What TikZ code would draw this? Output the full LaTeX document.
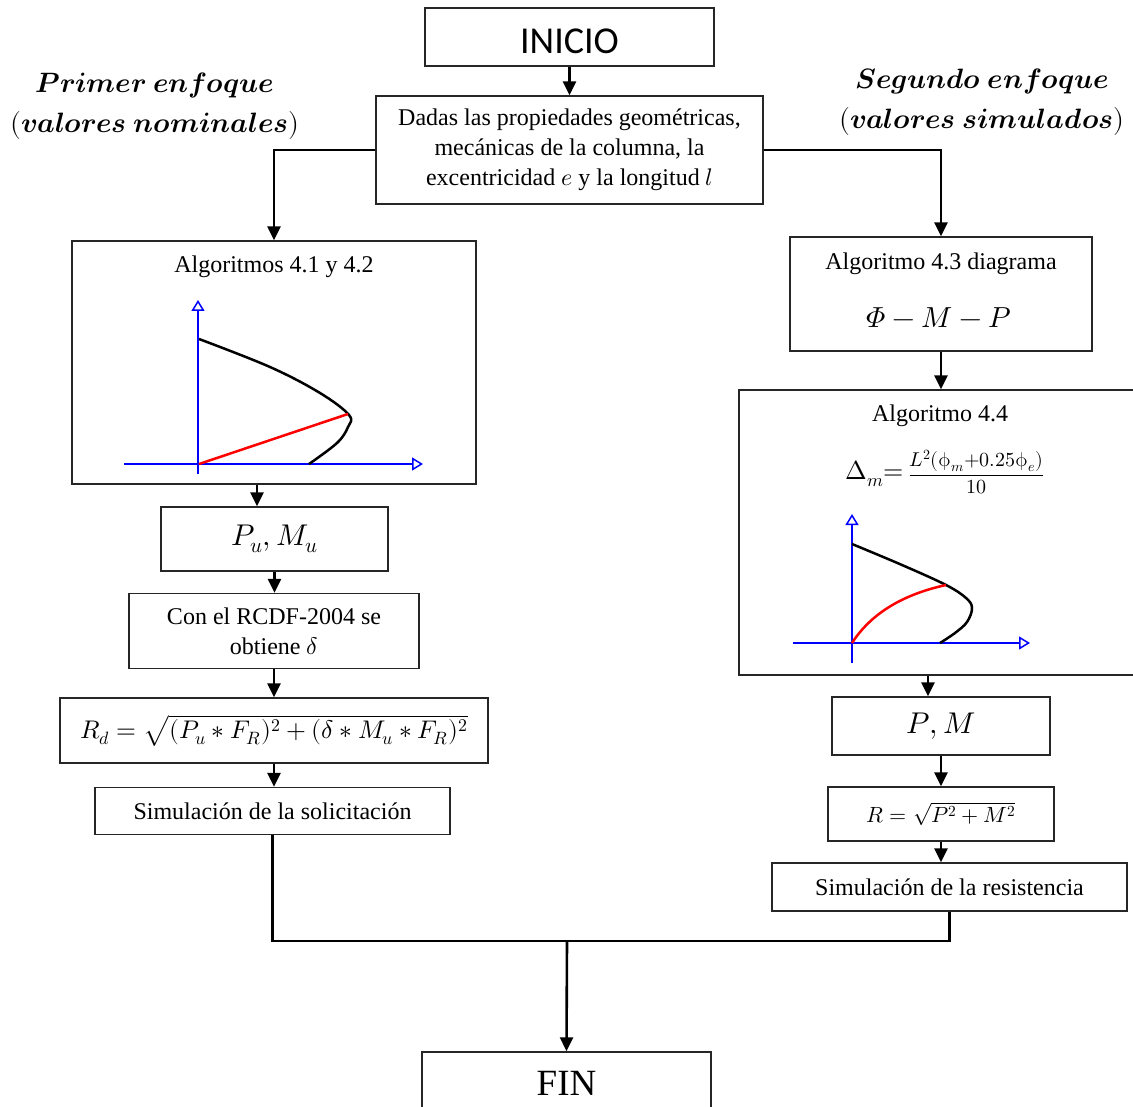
\documentclass[tikz,border=0pt]{standalone}
\usepackage{fontspec}
\usepackage[math-style=ISO]{unicode-math}
\setmainfont{Liberation Serif}
\setmathfont{Latin Modern Math}
\newfontfamily\calib{Carlito}
\usetikzlibrary{arrows.meta}
\begin{document}
\begin{tikzpicture}[x=1pt,y=-1pt,
  box/.style={draw=black!85, line width=1.4pt, inner sep=0pt, align=center},
  txt/.style={font=\fontsize{24}{30}\selectfont, align=center, inner sep=0pt},
  conn/.style={line width=2.6pt, -{Triangle[width=13pt,length=14pt]}},
  link/.style={line width=2.6pt},
  axis/.style={blue, line width=1.5pt, -{Triangle[open,width=13pt,length=11pt]}},
  curveb/.style={line width=2.5pt, black},
  curver/.style={line width=2.5pt, red},
  head/.style={font=\fontsize{28}{40}\selectfont, align=center, inner sep=0pt}
]
\useasboundingbox (0,0) rectangle (1133,1107);
\clip (0,0) rectangle (1133,1107);
\fill[white] (0,0) rectangle (1133,1107);

% headings
\node[head] (h1) at (155,106) {$\symbfit{Primer\ enfoque}$\\$(\symbfit{valores\ nominales})$};
\node[head] (h2) at (982,102) {$\symbfit{Segundo\ enfoque}$\\$(\symbfit{valores\ simulados})$};

% top
\node[box, minimum width=289, minimum height=58] (inicio) at (569.5,37) {};
\node[font=\calib\fontsize{38}{40}\selectfont, inner sep=0pt] (tinicio) at (569.5,41) {INICIO};
\node[box, txt, minimum width=387, minimum height=108] (dadas) at (569.5,150) {Dadas las propiedades geométricas,\\ mecánicas de la columna, la\\ excentricidad $e$ y la longitud $l$};

% left column
\node[box, minimum width=404, minimum height=243] (alg12) at (274,362.5) {};
\node[txt] (t12) at (274,267) {Algoritmos 4.1 y 4.2};
\draw[axis] (198,474) -- (198,300);
\draw[axis] (124,464) -- (423,464);
\draw[curveb] plot[smooth, tension=0.6] coordinates {(199,339) (270,367) (320,393) (349,415) (348,427) (337,443) (309,464)};
\draw[curver] (199,464) -- (348,414);

\node[box, minimum width=227, minimum height=64, font=\fontsize{30}{34}\selectfont] (pumu) at (274.5,539) {$P_u, M_u$};
\node[box, txt, minimum width=290, minimum height=75] (rcdf) at (274,631) {Con el RCDF-2004 se\\ obtiene $\delta$};
\node[box, minimum width=428, minimum height=65, font=\fontsize{25.5}{28}\selectfont] (rd) at (274,730.5) {$R_d = \sqrt{(P_u * F_R)^2 + (\delta * M_u * F_R)^2}$};
\node[box, txt, minimum width=355, minimum height=47] (simsol) at (272.5,811) {Simulación de la solicitación};

% right column
\node[box, minimum width=302, minimum height=114] (alg43) at (941,294) {};
\node[txt] (t43) at (941,264) {Algoritmo 4.3 diagrama};
\node[font=\fontsize{29}{32}\selectfont, inner sep=0pt] (phi) at (939,318) {$\Phi - M - P$};

\node[box, minimum width=401, minimum height=285] (alg44) at (939.5,532.5) {};
\node[txt] (t44) at (940,416) {Algoritmo 4.4};
\node[inner sep=0pt] (delta) at (945,472) {{\fontsize{26}{28}\selectfont$\upDelta_m{=}\,$}{\fontsize{20}{24}\selectfont$\dfrac{L^2(\upphi_m{+}0.25\upphi_e)}{10}$}};
\draw[axis] (852,663) -- (852,514);
\draw[axis] (793,643) -- (1030,643);
\draw[curveb] plot[smooth, tension=0.6] coordinates {(852,544) (902,565) (946,585) (966,598) (972,608) (967,622) (955,633) (940,643)};
\draw[curver] (852,643) .. controls (872,612) and (905,594) .. (946,585);

\node[box, minimum width=218, minimum height=58, font=\fontsize{30}{34}\selectfont] (pm) at (941,726) {$P, M$};
\node[box, minimum width=226, minimum height=54, font=\fontsize{22}{26}\selectfont] (rr) at (941,814) {$R = \sqrt{P^2 + M^2}$};
\node[box, txt, minimum width=355, minimum height=48] (simres) at (949.5,887) {Simulación de la resistencia};

% end
\node[box, minimum width=289, minimum height=62, font=\fontsize{37}{40}\selectfont] (fin) at (566.5,1083) {FIN};

% connectors
\draw[conn] (tinicio |- inicio.south) -- (dadas.north);
\draw[conn] (dadas.west) -| (alg12.north);
\draw[conn] (dadas.east) -| (alg43.north);
\draw[conn] ([xshift=-17]alg12.south) -- ([xshift=-17.5]pumu.north);
\draw[conn] (pumu.south) -- (pumu.south |- rcdf.north);
\draw[conn] (rcdf.south) -- (rd.north);
\draw[conn] (rd.south) -- (rd.south |- simsol.north);
\draw[conn] (alg43.south) -- (alg43.south |- alg44.north);
\draw[conn] ([xshift=-11.5]alg44.south) -- ([xshift=-11.5]alg44.south |- pm.north);
\draw[conn] (pm.south) -- (rr.north);
\draw[conn] (rr.south) -- (rr.south |- simres.north);
\coordinate (j) at (567,941);
\draw[link] (simsol.south) |- (j) -| (simres.south);
\draw[conn] (j) -- (fin.north);
\end{tikzpicture}
\end{document}
